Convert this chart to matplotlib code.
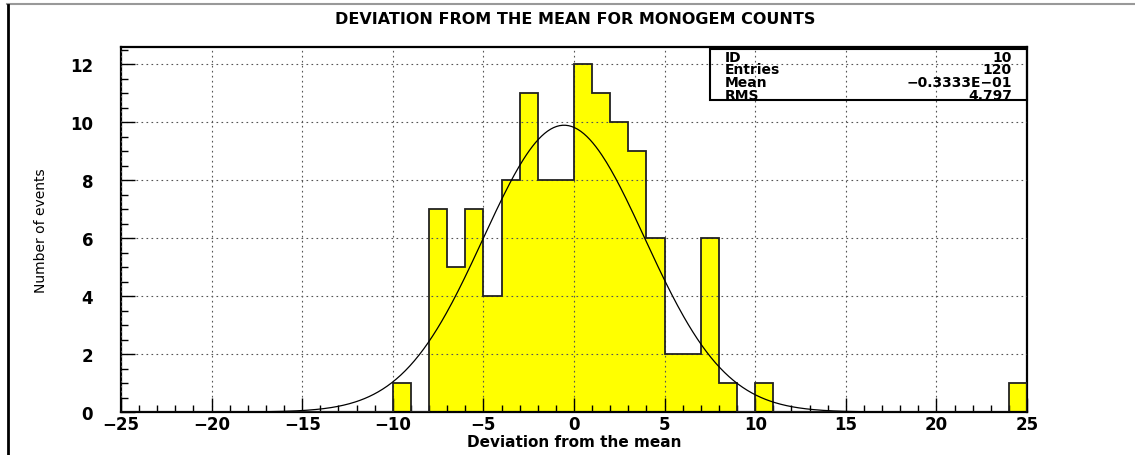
import numpy as np
import matplotlib
matplotlib.use("Agg")
import matplotlib.pyplot as plt
from matplotlib.ticker import MultipleLocator
from matplotlib.patches import Rectangle
from matplotlib.lines import Line2D

# histogram contents, unit bins from -25 to 25
bin_edges = np.arange(-25, 26)
nonzero_bins = [-10, -8, -7, -6, -5, -4, -3, -2, -1, 0, 1, 2, 3, 4, 5, 6, 7, 8, 10, 24]
nonzero_counts = [1, 7, 5, 7, 4, 8, 11, 8, 8, 12, 11, 10, 9, 6, 2, 2, 6, 1, 1, 1]

# gaussian fit drawn over the histogram
fit_amp = 9.9
fit_mean = -0.55
fit_sigma = 4.45

stats_labels = ["ID", "Entries", "Mean", "RMS"]
stats_values = ["10", "120", "\u22120.3333E\u221201", "4.797"]

counts = np.zeros(len(bin_edges) - 1)
for b, c in zip(nonzero_bins, nonzero_counts):
    counts[b + 25] = c

fig = plt.figure(figsize=(11.35, 4.56), dpi=100)
ax = fig.add_axes([121 / 1135, 43 / 456, 906 / 1135, 365 / 456])

ax.stairs(counts, bin_edges, fill=True, color="#ffff00", zorder=1)
ax.stairs(counts, bin_edges, color="#222222", linewidth=1.3, zorder=3)

xf = np.linspace(-25, 25, 600)
ax.plot(xf, fit_amp * np.exp(-0.5 * ((xf - fit_mean) / fit_sigma) ** 2),
        color="black", linewidth=0.9, zorder=4)

ax.set_xlim(-25, 25)
ax.set_ylim(0, 12.6)
ax.xaxis.set_major_locator(MultipleLocator(5))
ax.xaxis.set_minor_locator(MultipleLocator(1))
ax.yaxis.set_major_locator(MultipleLocator(2))
ax.yaxis.set_minor_locator(MultipleLocator(0.5))
ax.grid(True, which="major", linestyle=(0, (1.5, 3)), color="#555555", linewidth=0.8, zorder=2)
ax.set_axisbelow(False)

ax.tick_params(which="both", direction="in", top=False, right=False, width=1)
ax.tick_params(which="major", length=10)
ax.tick_params(which="minor", length=5)
ax.tick_params(axis="y", pad=20)
ax.tick_params(axis="x", pad=2)
for lab in ax.get_xticklabels() + ax.get_yticklabels():
    lab.set_fontsize(12)
    lab.set_fontweight("bold")
for sp in ax.spines.values():
    sp.set_linewidth(1.6)

ax.set_xlabel("Deviation from the mean", fontsize=11, fontweight="bold", labelpad=1)
ax.set_ylabel("Number of events", fontsize=10, labelpad=16)

fig.text(575 / 1135, 1 - 20 / 456, "DEVIATION FROM THE MEAN FOR MONOGEM COUNTS",
         ha="center", va="center", fontsize=11.5, fontweight="bold")

# stats box
bx0, by0, bx1, by1 = 710 / 1135, 1 - 101 / 456, 1027 / 1135, 1 - 50 / 456
fig.add_artist(Rectangle((bx0, by0), bx1 - bx0, by1 - by0, transform=fig.transFigure,
                         fill=False, edgecolor="black", linewidth=1.5, zorder=5))
for i, (lab, val) in enumerate(zip(stats_labels, stats_values)):
    yy = 1 - (57.5 + i * 12.8) / 456
    fig.text(725 / 1135, yy, lab, ha="left", va="center", fontsize=10, fontweight="bold")
    fig.text(1012 / 1135, yy, val, ha="right", va="center", fontsize=10, fontweight="bold")

# outer frame lines
fig.add_artist(Line2D([7 / 1135, 1], [1 - 5 / 456, 1 - 5 / 456], transform=fig.transFigure,
                      color="#999999", linewidth=1.5))
fig.add_artist(Line2D([7.5 / 1135, 7.5 / 1135], [0, 1 - 6 / 456], transform=fig.transFigure,
                      color="black", linewidth=2))

fig.savefig("out.png", dpi=100)
